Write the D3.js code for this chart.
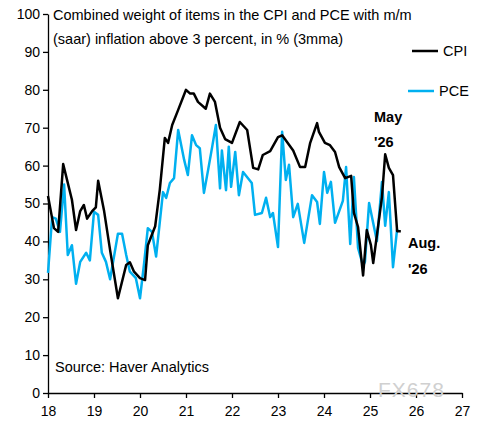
<!DOCTYPE html>
<html><head><meta charset="utf-8">
<script src="https://cdn.jsdelivr.net/npm/d3@7"></script>
<style>body{margin:0;background:#fff}text{font-family:"Liberation Sans",Arial,sans-serif}</style>
</head><body><svg id="c" width="481" height="432"></svg>
<script>
const cpiX=[18.00,18.13,18.22,18.33,18.52,18.61,18.70,18.78,18.85,18.96,19.04,19.09,19.22,19.35,19.52,19.70,19.78,19.87,20.00,20.11,20.17,20.33,20.43,20.54,20.61,20.70,20.83,21.00,21.09,21.17,21.26,21.43,21.52,21.63,21.74,21.85,22.00,22.17,22.33,22.46,22.57,22.67,22.83,23.00,23.09,23.33,23.48,23.59,23.70,23.85,23.89,24.02,24.13,24.24,24.33,24.46,24.59,24.65,24.74,24.85,24.93,25.02,25.07,25.26,25.33,25.41,25.50,25.59,25.67];
const cpiY=[52,43.5,42.5,60.4,51,43,48,49.6,46,48,49,56,48,37.7,25,33.8,34.5,32,30.3,29.8,39,44,53.6,67.3,66,70.7,74.7,80,79,79,76.8,75,79,76.8,70,67,66,71.5,69.4,59.4,59,62.8,63.8,67.5,68,64,59.6,59.6,66,71.2,68.9,66,65.4,63.6,59.6,56.7,57.3,47.5,43.8,31,43,39,34.3,51.7,63,59.4,57.5,42.7,42.7];
const pceX=[18.00,18.09,18.17,18.26,18.35,18.43,18.52,18.61,18.70,18.83,18.91,19.00,19.09,19.17,19.26,19.35,19.52,19.61,19.70,19.78,19.91,20.00,20.09,20.17,20.26,20.35,20.43,20.50,20.57,20.65,20.74,20.83,20.96,21.04,21.13,21.22,21.30,21.39,21.48,21.57,21.65,21.74,21.78,21.87,21.93,21.98,22.07,22.15,22.24,22.43,22.50,22.65,22.74,22.83,22.89,23.00,23.09,23.17,23.24,23.33,23.43,23.57,23.74,23.85,23.91,24.00,24.07,24.15,24.24,24.41,24.48,24.57,24.65,24.74,24.85,24.89,24.98,25.15,25.26,25.33,25.41,25.50,25.59];
const pceY=[31.7,46.4,46,42.5,55,36.4,39,28.8,34.6,37,35,47.8,47,37,34.6,30,42,42,36.4,32,30.3,25,34.3,43.5,42.5,36,45,53,51.5,55.4,56.7,69.4,61.5,57.5,68,65.4,64.6,52.8,58.8,65,70.7,54,64,53.5,65,54.4,63.6,52.2,58.3,55.4,47,47.5,51.5,46.4,47.5,38.5,68.9,56.2,60.2,46.4,49.9,39.6,52.2,50.4,44.6,58.3,52.8,55.7,44.9,50.7,59.6,39.3,57,38.3,33.5,34.6,50.1,40.1,55.7,44.1,53,33.2,43.3];
const xTicks=[18,19,20,21,22,23,24,25,26,27];
const yTicks=[0,10,20,30,40,50,60,70,80,90,100];
const svg=d3.select("#c");
const x=d3.scaleLinear().domain([18,27]).range([48,462]);
const y=d3.scaleLinear().domain([0,100]).range([393,14]);
const xa=svg.append("g").attr("transform","translate(0,393)").call(d3.axisBottom(x).tickValues(xTicks).tickFormat(d3.format("d")).tickSize(5).tickSizeOuter(0));
const ya=svg.append("g").attr("transform","translate(48,0)").call(d3.axisLeft(y).tickValues(yTicks).tickSize(5).tickSizeOuter(0));
[xa,ya].forEach(a=>{a.selectAll("path,line").attr("stroke","#000").attr("stroke-width",1.3);a.selectAll("text").attr("font-size",14).attr("fill","#000");});
xa.selectAll("text").attr("dy","1.1em");
const line=d3.line().x(d=>x(d[0])).y(d=>y(d[1]));
const n=Math.min(pceX.length,pceY.length), m=Math.min(cpiX.length,cpiY.length);
svg.append("path").datum(d3.range(n).map(i=>[pceX[i],pceY[i]])).attr("d",line).attr("fill","none").attr("stroke","#00B0F0").attr("stroke-width",2.5).attr("stroke-linejoin","round");
svg.append("path").datum(d3.range(m).map(i=>[cpiX[i],cpiY[i]])).attr("d",line).attr("fill","none").attr("stroke","#000").attr("stroke-width",2.5).attr("stroke-linejoin","round");
const t=svg.append("text").attr("x",53).attr("font-size",14.5).attr("fill","#000");
t.append("tspan").attr("x",53).attr("y",20).text("Combined weight of items in the CPI and PCE with m/m");
t.append("tspan").attr("x",53).attr("y",44).text("(saar) inflation above 3 percent, in % (3mma)");
svg.append("line").attr("x1",412).attr("x2",438).attr("y1",51).attr("y2",51).attr("stroke","#000").attr("stroke-width",2.5);
svg.append("text").attr("x",443).attr("y",56).attr("font-size",14.5).text("CPI");
svg.append("line").attr("x1",408).attr("x2",434).attr("y1",91).attr("y2",91).attr("stroke","#00B0F0").attr("stroke-width",2.5);
svg.append("text").attr("x",439).attr("y",96).attr("font-size",14.5).text("PCE");
[["May",374,122],["'26",374,147],["Aug.",408,248],["'26",408,274]].forEach(a=>svg.append("text").attr("x",a[1]).attr("y",a[2]).attr("font-size",14.5).attr("font-weight","bold").text(a[0]));
svg.append("text").attr("x",55).attr("y",372).attr("font-size",14.5).text("Source: Haver Analytics");
svg.append("text").attr("x",378).attr("y",397).attr("font-size",21).attr("fill","#d0d0d0").attr("letter-spacing",1).text("FX678");
</script></body></html>
